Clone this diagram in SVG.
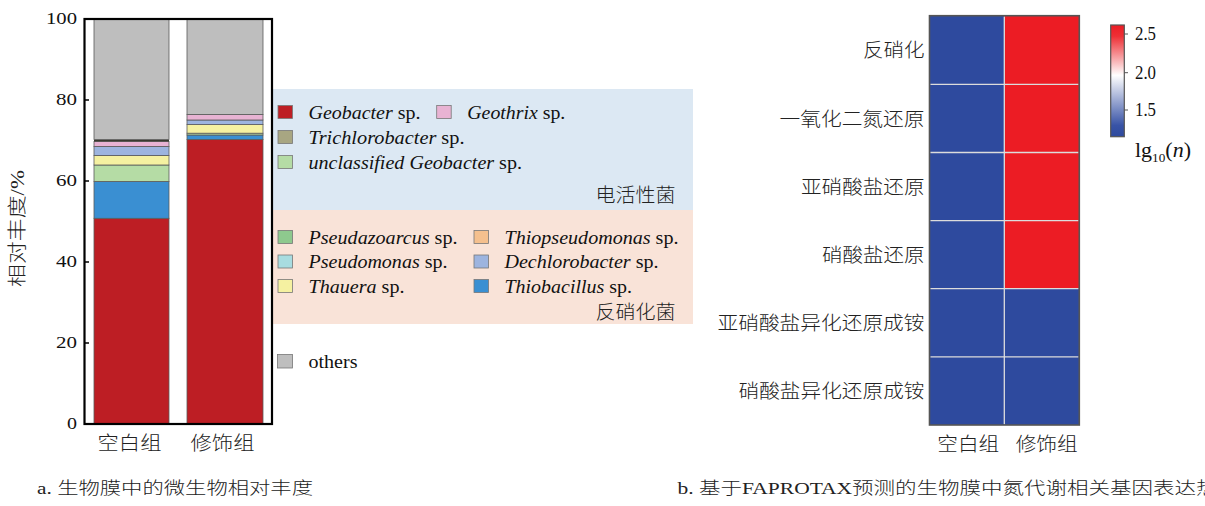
<svg xmlns="http://www.w3.org/2000/svg" width="1205" height="506" viewBox="0 0 1205 506">
<style>
.ser{font-family:"Liberation Serif","Noto Sans CJK SC",serif;fill:#111}
.cjk{font-family:"Liberation Serif","Noto Sans CJK SC",sans-serif;fill:#222;font-weight:300}
.it{font-style:italic}
.seg{stroke:#5a5a5a;stroke-width:0.8}
.sq{stroke:#777;stroke-width:0.8}
.hb{fill:#2e4a9e}
.hr{fill:#ec1c24}
.grid{stroke:#dcdcdc;stroke-width:1.3;fill:none}
</style>
<defs>
<linearGradient id="cb" x1="0" y1="0" x2="0" y2="1">
<stop offset="0" stop-color="#ec1c24"/>
<stop offset="0.1" stop-color="#ee2f35"/>
<stop offset="0.45" stop-color="#ffffff"/>
<stop offset="0.9" stop-color="#3853a6"/>
<stop offset="1" stop-color="#2e4a9e"/>
</linearGradient>
</defs>
<rect width="1205" height="506" fill="#fff"/>

<g id="chart-a">
  <g id="legend-bands">
    <rect x="273" y="89" width="420" height="121" fill="#dce8f3"/>
    <rect x="273" y="210" width="420" height="114" fill="#f9e3d8"/>
  </g>
  <g id="bar-blank">
    <rect class="seg" x="94" y="218.3" width="75" height="205.7" fill="#bd1e24"/>
    <rect class="seg" x="94" y="181.5" width="75" height="36.8" fill="#3a8fd2"/>
    <rect class="seg" x="94" y="165" width="75" height="16.5" fill="#b5dca5"/>
    <rect class="seg" x="94" y="155.5" width="75" height="9.5" fill="#f5f1a1"/>
    <rect class="seg" x="94" y="146.5" width="75" height="9" fill="#9db4df"/>
    <rect class="seg" x="94" y="141.5" width="75" height="5" fill="#e8b3d3"/>
    <rect x="94" y="139.5" width="75" height="2" fill="#3a3a30"/>
    <rect class="seg" x="94" y="19.5" width="75" height="120" fill="#bebebe"/>
  </g>
  <g id="bar-modified">
    <rect class="seg" x="187" y="139.5" width="76" height="284.5" fill="#bd1e24"/>
    <rect class="seg" x="187" y="135" width="76" height="4.5" fill="#3a8fd2"/>
    <rect class="seg" x="187" y="133.2" width="76" height="1.8" fill="#b5dca5"/>
    <rect class="seg" x="187" y="124.6" width="76" height="8.6" fill="#f5f1a1"/>
    <rect class="seg" x="187" y="120" width="76" height="4.6" fill="#9db4df"/>
    <rect class="seg" x="187" y="114.5" width="76" height="5.5" fill="#e8b3d3"/>
    <rect class="seg" x="187" y="19.5" width="76" height="95" fill="#bebebe"/>
  </g>
  <g id="axes">
    <rect x="84.5" y="19" width="187.5" height="405" fill="none" stroke="#000" stroke-width="2.2"/>
    <path d="M85 100H89M85 181H89M85 262H89M85 343H89" stroke="#000" stroke-width="1.6"/>
    <g class="ser" font-size="17.5" text-anchor="end">
      <text x="77" y="24" textLength="31" lengthAdjust="spacingAndGlyphs">100</text>
      <text x="77" y="105" textLength="21" lengthAdjust="spacingAndGlyphs">80</text>
      <text x="77" y="186" textLength="21" lengthAdjust="spacingAndGlyphs">60</text>
      <text x="77" y="267" textLength="21" lengthAdjust="spacingAndGlyphs">40</text>
      <text x="77" y="348" textLength="21" lengthAdjust="spacingAndGlyphs">20</text>
      <text x="77" y="429" textLength="10" lengthAdjust="spacingAndGlyphs">0</text>
    </g>
    <text class="cjk" font-size="19" transform="translate(24 228.5) rotate(-90)" text-anchor="middle" textLength="117" lengthAdjust="spacingAndGlyphs">相对丰度/%</text>
    <text class="cjk" font-size="19" x="97.5" y="450" textLength="64" lengthAdjust="spacingAndGlyphs">空白组</text>
    <text class="cjk" font-size="19" x="190.5" y="450" textLength="64" lengthAdjust="spacingAndGlyphs">修饰组</text>
  </g>
  <g id="legend" class="ser" font-size="19">
    <rect class="sq" x="278" y="105.5" width="14.5" height="13" fill="#bd1e24"/>
    <text x="308.5" y="118.5" textLength="112" lengthAdjust="spacingAndGlyphs"><tspan class="it">Geobacter</tspan> sp.</text>
    <rect class="sq" x="436.7" y="105.5" width="14.5" height="13" fill="#e8b3d3"/>
    <text x="467.3" y="118.5" textLength="98" lengthAdjust="spacingAndGlyphs"><tspan class="it">Geothrix</tspan> sp.</text>
    <rect class="sq" x="278" y="130.5" width="14.5" height="13" fill="#a8a682"/>
    <text x="308.5" y="143.5" textLength="156" lengthAdjust="spacingAndGlyphs"><tspan class="it">Trichlorobacter</tspan> sp.</text>
    <rect class="sq" x="278" y="155.5" width="14.5" height="13" fill="#b5dca5"/>
    <text x="308.5" y="168.5" textLength="213.5" lengthAdjust="spacingAndGlyphs"><tspan class="it">unclassified Geobacter</tspan> sp.</text>
    <text class="cjk" x="675.5" y="202" font-size="19" text-anchor="end" textLength="80" lengthAdjust="spacingAndGlyphs">电活性菌</text>

    <rect class="sq" x="278" y="230.5" width="14.5" height="13" fill="#8ec98e"/>
    <text x="308.5" y="243.5" textLength="149" lengthAdjust="spacingAndGlyphs"><tspan class="it">Pseudazoarcus</tspan> sp.</text>
    <rect class="sq" x="278" y="255" width="14.5" height="13" fill="#a8dce0"/>
    <text x="308.5" y="268" textLength="139" lengthAdjust="spacingAndGlyphs"><tspan class="it">Pseudomonas</tspan> sp.</text>
    <rect class="sq" x="278" y="279.5" width="14.5" height="13" fill="#f5f1a1"/>
    <text x="308.5" y="292.5" textLength="96" lengthAdjust="spacingAndGlyphs"><tspan class="it">Thauera</tspan> sp.</text>
    <rect class="sq" x="474" y="230.5" width="14.5" height="13" fill="#f5c08e"/>
    <text x="504.5" y="243.5" textLength="174" lengthAdjust="spacingAndGlyphs"><tspan class="it">Thiopseudomonas</tspan> sp.</text>
    <rect class="sq" x="474" y="255" width="14.5" height="13" fill="#9db4df"/>
    <text x="504.5" y="268" textLength="154" lengthAdjust="spacingAndGlyphs"><tspan class="it">Dechlorobacter</tspan> sp.</text>
    <rect class="sq" x="474" y="279.5" width="14.5" height="13" fill="#3a8fd2"/>
    <text x="504.5" y="292.5" textLength="127.5" lengthAdjust="spacingAndGlyphs"><tspan class="it">Thiobacillus</tspan> sp.</text>
    <text class="cjk" x="675.5" y="319" font-size="19" text-anchor="end" textLength="80" lengthAdjust="spacingAndGlyphs">反硝化菌</text>

    <rect class="sq" x="277.5" y="354.5" width="15" height="13.5" fill="#bebebe"/>
    <text x="308.5" y="367.5" textLength="49" lengthAdjust="spacingAndGlyphs">others</text>
  </g>
</g>

<g id="chart-b">
  <g id="heatmap">
    <rect class="hb" x="929.5" y="15.7" width="74.8" height="409.3"/>
    <rect class="hr" x="1004.3" y="15.7" width="75" height="272.9"/>
    <rect class="hb" x="1004.3" y="288.6" width="75" height="136.4"/>
    <path class="grid" d="M1004.3 16.5V424.2M930.3 84.3H1078.5M930.3 152.5H1078.5M930.3 220.6H1078.5M930.3 288.7H1078.5M930.3 356.8H1078.5"/>
    <rect x="929.5" y="15.7" width="149.8" height="409.3" fill="none" stroke="#555" stroke-width="1.6"/>
  </g>
  <g id="row-labels" class="cjk" font-size="19" text-anchor="end">
    <text x="924.5" y="57" textLength="61.5" lengthAdjust="spacingAndGlyphs">反硝化</text>
    <text x="924.5" y="125.5" textLength="145" lengthAdjust="spacingAndGlyphs">一氧化二氮还原</text>
    <text x="924.5" y="193.5" textLength="123.5" lengthAdjust="spacingAndGlyphs">亚硝酸盐还原</text>
    <text x="924.5" y="261.5" textLength="102.5" lengthAdjust="spacingAndGlyphs">硝酸盐还原</text>
    <text x="924.5" y="329.5" textLength="207" lengthAdjust="spacingAndGlyphs">亚硝酸盐异化还原成铵</text>
    <text x="924.5" y="397.5" textLength="186" lengthAdjust="spacingAndGlyphs">硝酸盐异化还原成铵</text>
  </g>
  <g id="col-labels" class="cjk" font-size="19">
    <text x="937.3" y="450.5" textLength="62" lengthAdjust="spacingAndGlyphs">空白组</text>
    <text x="1015.7" y="450.5" textLength="62" lengthAdjust="spacingAndGlyphs">修饰组</text>
  </g>
  <g id="colorbar">
    <rect x="1110.7" y="25" width="13.6" height="111.7" fill="url(#cb)" stroke="#555" stroke-width="1.2"/>
    <path d="M1124.3 34H1128M1124.3 72.7H1128M1124.3 110H1128" stroke="#555" stroke-width="1"/>
    <g class="ser" font-size="18">
      <text x="1135" y="40" textLength="21" lengthAdjust="spacingAndGlyphs">2.5</text>
      <text x="1135" y="78.5" textLength="21" lengthAdjust="spacingAndGlyphs">2.0</text>
      <text x="1135" y="116" textLength="21" lengthAdjust="spacingAndGlyphs">1.5</text>
      <text x="1135" y="156.5" font-size="20" textLength="56" lengthAdjust="spacingAndGlyphs">lg<tspan font-size="12" dy="5">10</tspan><tspan dy="-5">(</tspan><tspan class="it">n</tspan>)</text>
    </g>
  </g>
</g>

<g id="captions">
  <text class="cjk" font-size="17" x="37" y="493.5" textLength="276" lengthAdjust="spacingAndGlyphs">a. 生物膜中的微生物相对丰度</text>
  <text class="cjk" font-size="17" x="677.5" y="493.5" textLength="540" lengthAdjust="spacingAndGlyphs">b. 基于FAPROTAX预测的生物膜中氮代谢相关基因表达热</text>
</g>
</svg>
